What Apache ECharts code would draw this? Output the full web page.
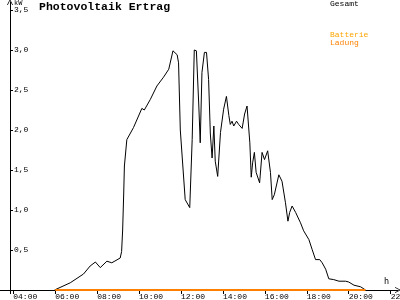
<!DOCTYPE html>
<html><head><meta charset="utf-8">
<script src="https://cdn.jsdelivr.net/npm/echarts@6/dist/echarts.min.js"></script>
<style>html,body{margin:0;padding:0;background:#fff}#c{width:400px;height:300px}</style>
</head><body><div id="c"></div>
<script>
// PV output (Gesamt), kW
const pvTimes = ["05:58","06:03","06:43","07:21","07:40","07:55","08:09","08:28","08:42","09:06","09:10","09:13","09:16","09:18","09:25","09:44","10:08","10:15","10:32","10:51","11:10","11:25","11:37","11:49","11:53","11:58","12:12","12:25","12:32","12:38","12:44","12:51","12:55","13:00","13:07","13:13","13:19","13:24","13:29","13:34","13:38","13:45","13:53","14:02","14:10","14:17","14:21","14:26","14:31","14:39","14:45","14:55","15:02","15:09","15:17","15:21","15:25","15:30","15:35","15:45","15:52","15:59","16:08","16:16","16:21","16:27","16:40","16:49","16:59","17:06","17:11","17:18","17:28","17:42","17:51","18:06","18:15","18:25","18:37","18:44","18:54","19:03","19:17","19:32","19:51","20:00","20:15","20:34","20:48"];
const pvValues = [0,0.01,0.09,0.20,0.30,0.35,0.28,0.36,0.34,0.40,0.48,0.75,1.20,1.55,1.88,2.03,2.27,2.25,2.38,2.55,2.66,2.76,2.99,2.94,2.84,2.00,1.13,1.03,1.88,3.00,2.99,2.30,1.84,2.72,2.97,2.97,2.63,1.95,1.65,2.05,1.61,1.42,1.97,2.26,2.42,2.18,2.07,2.11,2.05,2.11,2.07,2.02,2.20,2.30,1.84,1.41,1.59,1.72,1.47,1.34,1.72,1.63,1.74,1.47,1.13,1.19,1.44,1.36,1.09,0.86,0.97,1.05,0.97,0.84,0.74,0.63,0.51,0.38,0.38,0.34,0.26,0.14,0.13,0.11,0.11,0.10,0.06,0.04,0.00];
// Battery charging
const batTimes = ["06:00","20:48"];
const batValues = [0,0];
// Axis ticks
const xTickHours = [4,6,8,10,12,14,16,18,20,22];
const yTickValues = [0.5,1.0,1.5,2.0,2.5,3.0,3.5];

function toH(t){const p=t.split(':');return +p[0]+(+p[1])/60;}
function pairs(ts,vs){return ts.map((t,i)=>[toH(t),vs[i]]);}

const mono = 'Liberation Mono';
const chevUp = 'path://M0,10 L5,0 L10,10 L8.6,10 L5,2.6 L1.4,10 Z';
const chart = echarts.init(document.getElementById('c'), null, {renderer:'canvas'});
chart.setOption({
  animation:false,
  backgroundColor:'#fff',
  grid:{left:10,right:2,top:2,bottom:10,containLabel:false,outerBoundsMode:'none'},
  xAxis:{type:'value',min:3.844,max:22.35,
    axisLine:{lineStyle:{color:'#000',width:1},symbol:['none',chevUp],symbolSize:[7,6]},
    axisTick:{show:true,length:4,lineStyle:{color:'#000'},customValues:xTickHours},
    axisLabel:{customValues:xTickHours,align:'left',margin:3,color:'#000',fontFamily:mono,fontSize:8,
      formatter:v=>String(Math.round(v)).padStart(2,'0')+':00'},
    splitLine:{show:false}},
  yAxis:{type:'value',min:0,max:3.6,
    axisLine:{show:true,lineStyle:{color:'#000',width:1},symbol:['none',chevUp],symbolSize:[7,6]},
    axisTick:{show:true,inside:true,length:3,lineStyle:{color:'#000'},customValues:yTickValues},
    axisLabel:{customValues:yTickValues,inside:true,margin:4,color:'#000',fontFamily:mono,fontSize:8,
      formatter:v=>v.toFixed(1).replace('.',',')},
    splitLine:{show:false}},
  series:[
    {name:'Gesamt',type:'line',data:pairs(pvTimes,pvValues),showSymbol:false,
      lineStyle:{color:'#000',width:1},z:3},
    {name:'Batterie Ladung',type:'line',data:pairs(batTimes,batValues),showSymbol:false,
      lineStyle:{color:'#ff8000',width:2},z:4}
  ],
  graphic:[
    {type:'line',shape:{x1:0,y1:290.5,x2:10,y2:290.5},style:{stroke:'#000',lineWidth:1},z:5},
    {type:'line',shape:{x1:10.5,y1:290,x2:10.5,y2:294},style:{stroke:'#000',lineWidth:1},z:5},
    {type:'text',x:39,y:1,style:{text:'Photovoltaik Ertrag',font:'bold 11.5px "Liberation Mono"',fill:'#000'}},
    {type:'text',x:14,y:0,style:{text:'kW',font:'7px "Liberation Mono"',fill:'#000'}},
    {type:'text',x:330,y:0,style:{text:'Gesamt',font:'8px "Liberation Mono"',fill:'#000'}},
    {type:'text',x:330,y:31,style:{text:'Batterie',font:'8px "Liberation Mono"',fill:'#ffa500'}},
    {type:'text',x:330,y:39,style:{text:'Ladung',font:'8px "Liberation Mono"',fill:'#ff8000'}},
    {type:'text',x:384,y:277,style:{text:'h',font:'8.5px "Liberation Mono"',fill:'#000'}}
  ]
});
</script></body></html>
